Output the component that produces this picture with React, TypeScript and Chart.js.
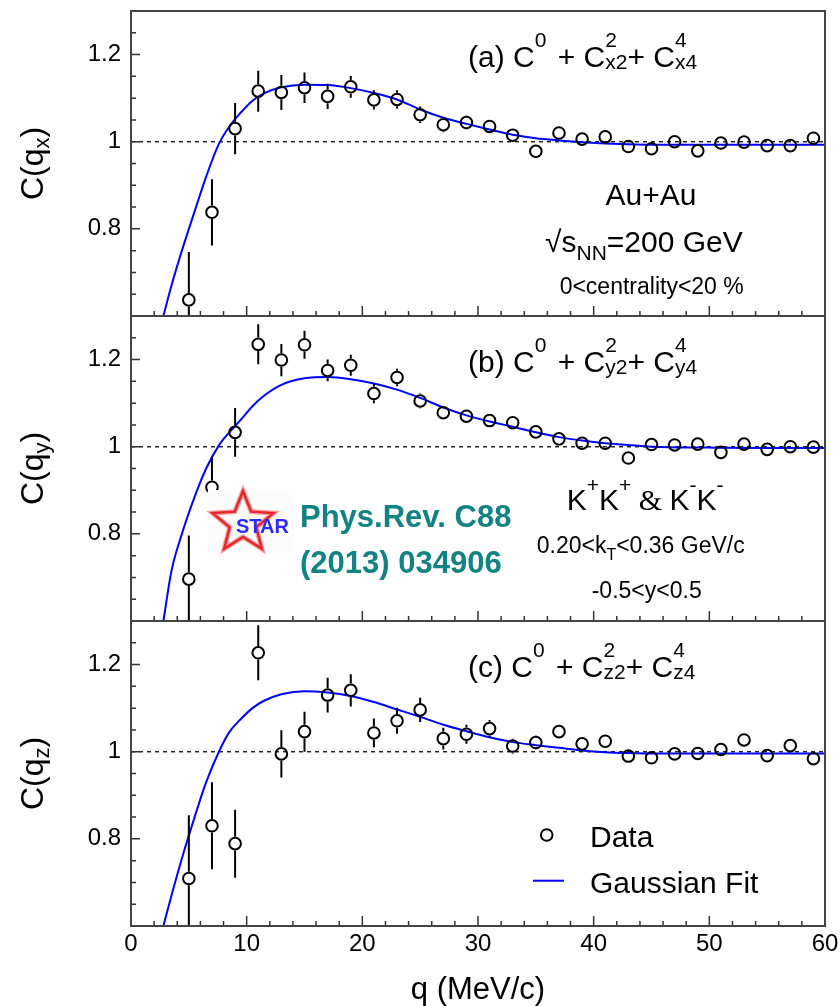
import React, { useEffect, useRef } from "react";
import { Chart, registerables } from "chart.js";

Chart.register(...registerables);

// ---------------- data ----------------
const qValues = [5, 7, 9, 11, 13, 15, 17, 19, 21, 23, 25, 27, 29, 31, 33, 35, 37, 39, 41, 43, 45, 47, 49, 51, 53, 55, 57, 59];

const cqxValues = [0.637, 0.838, 1.03, 1.116, 1.113, 1.124, 1.104, 1.126, 1.096, 1.097, 1.062, 1.039, 1.044, 1.035, 1.015, 0.978, 1.02, 1.006, 1.011, 0.989, 0.984, 1.0, 0.979, 0.997, 0.999, 0.991, 0.991, 1.008];
const cqxErrors = [0.11, 0.076, 0.059, 0.047, 0.04, 0.035, 0.029, 0.025, 0.022, 0.021, 0.019, 0.017, 0.016, 0.015, 0.014, 0.013, 0.012, 0.012, 0.011, 0.011, 0.01, 0.01, 0.01, 0.01, 0.009, 0.009, 0.009, 0.009];

const cqyValues = [0.696, 0.907, 1.033, 1.235, 1.199, 1.234, 1.175, 1.187, 1.122, 1.159, 1.105, 1.078, 1.07, 1.06, 1.055, 1.034, 1.018, 1.008, 1.008, 0.974, 1.005, 1.004, 1.006, 0.987, 1.006, 0.994, 1.0, 0.999];
const cqyErrors = [0.1, 0.07, 0.056, 0.046, 0.037, 0.032, 0.025, 0.024, 0.022, 0.02, 0.017, 0.015, 0.014, 0.013, 0.012, 0.011, 0.011, 0.01, 0.01, 0.01, 0.009, 0.009, 0.009, 0.009, 0.009, 0.009, 0.009, 0.009];

const cqzValues = [0.709, 0.83, 0.789, 1.227, 0.995, 1.046, 1.13, 1.141, 1.043, 1.071, 1.096, 1.03, 1.04, 1.053, 1.013, 1.021, 1.046, 1.018, 1.024, 0.99, 0.986, 0.995, 0.996, 1.005, 1.027, 0.991, 1.014, 0.984];
const cqzErrors = [0.145, 0.1, 0.078, 0.063, 0.054, 0.046, 0.04, 0.037, 0.033, 0.03, 0.028, 0.025, 0.022, 0.02, 0.017, 0.016, 0.015, 0.014, 0.013, 0.012, 0.012, 0.011, 0.011, 0.011, 0.011, 0.01, 0.01, 0.01];

const fitQ = [2.8, 3.5, 4.4, 5.5, 6.5, 7.6, 8.5, 9.5, 10.5, 11.5, 13, 15, 17, 19, 21, 23, 25, 27, 29, 31, 33, 35, 37, 39, 41, 43, 45, 50, 55, 60];
const fitCqx = [0.6, 0.67, 0.75, 0.84, 0.92, 0.995, 1.035, 1.067, 1.094, 1.111, 1.125, 1.131, 1.13, 1.123, 1.112, 1.097, 1.074, 1.055, 1.041, 1.028, 1.016, 1.008, 1.003, 0.999, 0.996, 0.994, 0.993, 0.993, 0.993, 0.993];
const fitCqy = [0.6, 0.715, 0.8, 0.885, 0.95, 1.003, 1.033, 1.062, 1.093, 1.117, 1.142, 1.157, 1.16, 1.155, 1.145, 1.131, 1.112, 1.09, 1.072, 1.058, 1.046, 1.033, 1.022, 1.014, 1.008, 1.004, 1.0, 0.998, 0.997, 0.997];
const fitCqz = [0.6, 0.67, 0.755, 0.85, 0.93, 1.0, 1.045, 1.075, 1.1, 1.117, 1.132, 1.139, 1.136, 1.128, 1.114, 1.097, 1.08, 1.062, 1.047, 1.033, 1.022, 1.015, 1.009, 1.003, 0.999, 0.997, 0.996, 0.996, 0.996, 0.996];

const xLabelTicks = [0, 10, 20, 30, 40, 50, 60];
const yLabelTicks = [0.8, 1.0, 1.2];
const referenceLevel = 1.0;

// ---------------- styling ----------------
const FONT = "'Liberation Sans', Arial, Helvetica, sans-serif";
const SERIF = "'Liberation Serif', 'Times New Roman', serif";
const W = 840;
const H = 1006;
const PLOT_LEFT = 131;
const PLOT_RIGHT_PAD = 15;
const MARKER_R = 5.8;

type Seg = { t?: string; sup?: string; sub?: string; font?: string; subDy?: number; supDy?: number; gap?: number };

function richWidth(ctx: CanvasRenderingContext2D, segs: Seg[], size: number) {
  let w = 0;
  for (const s of segs) {
    if (s.t !== undefined) {
      ctx.font = `${size}px ${s.font || FONT}`;
      w += ctx.measureText(s.t).width;
    } else {
      ctx.font = `${Math.round(size * 0.7)}px ${FONT}`;
      let m = 0;
      if (s.sup) m = Math.max(m, ctx.measureText(s.sup).width);
      if (s.sub) m = Math.max(m, ctx.measureText(s.sub).width);
      w += m + (s.gap || 0);
    }
  }
  return w;
}

function drawRich(ctx: CanvasRenderingContext2D, x: number, y: number, segs: Seg[], size: number, align: "left" | "center" = "left") {
  let cx = x;
  if (align === "center") cx = x - richWidth(ctx, segs, size) / 2;
  ctx.textAlign = "left";
  ctx.textBaseline = "alphabetic";
  for (const s of segs) {
    if (s.t !== undefined) {
      ctx.font = `${size}px ${s.font || FONT}`;
      ctx.fillText(s.t, cx, y);
      cx += ctx.measureText(s.t).width;
    } else {
      ctx.font = `${Math.round(size * 0.7)}px ${FONT}`;
      let m = 0;
      if (s.sup) {
        ctx.fillText(s.sup, cx, y - (s.supDy ?? size * 0.66));
        m = Math.max(m, ctx.measureText(s.sup).width);
      }
      if (s.sub) {
        ctx.fillText(s.sub, cx, y + (s.subDy ?? size * 0.06));
        m = Math.max(m, ctx.measureText(s.sub).width);
      }
      cx += m + (s.gap || 0);
    }
  }
}

function titleSegs(letter: string, axis: string): Seg[] {
  return [
    { t: `(${letter}) C` },
    { sup: "0", gap: 3 },
    { t: " + C" },
    { sup: "2", sub: `${axis}2` },
    { t: "+ C" },
    { sup: "4", sub: `${axis}4` },
  ];
}

function drawStar(ctx: CanvasRenderingContext2D, cx: number, cy: number, R: number, r: number) {
  ctx.beginPath();
  for (let i = 0; i < 10; i++) {
    const ang = -Math.PI / 2 + (i * Math.PI) / 5;
    const rad = i % 2 === 0 ? R : r;
    const px = cx + rad * Math.cos(ang);
    const py = cy + rad * Math.sin(ang);
    if (i === 0) ctx.moveTo(px, py);
    else ctx.lineTo(px, py);
  }
  ctx.closePath();
}

type PanelSpec = {
  key: string;
  letter: string;
  axis: string;
  values: number[];
  errors: number[];
  fit: number[];
  top: number;
  bottom: number;
  showX: boolean;
};

const panels: PanelSpec[] = [
  { key: "a", letter: "a", axis: "x", values: cqxValues, errors: cqxErrors, fit: fitCqx, top: 11, bottom: 316, showX: false },
  { key: "b", letter: "b", axis: "y", values: cqyValues, errors: cqyErrors, fit: fitCqy, top: 316, bottom: 621, showX: false },
  { key: "c", letter: "c", axis: "z", values: cqzValues, errors: cqzErrors, fit: fitCqz, top: 621, bottom: 926, showX: true },
];

function makePlugin(p: PanelSpec) {
  return {
    id: "decor_" + p.key,
    beforeDatasetsDraw(chart: any) {
      const { ctx, chartArea: a, scales } = chart;
      const py = scales.y.getPixelForValue(referenceLevel);
      ctx.save();
      ctx.strokeStyle = "#222";
      ctx.lineWidth = 1.5;
      ctx.setLineDash([4, 4]);
      ctx.beginPath();
      ctx.moveTo(a.left, py);
      ctx.lineTo(a.right, py);
      ctx.stroke();
      ctx.restore();
    },
    afterDatasetsDraw(chart: any) {
      const { ctx, chartArea: a, scales } = chart;
      const xs = scales.x;
      const ys = scales.y;
      ctx.save();
      ctx.beginPath();
      ctx.rect(a.left, a.top, a.right - a.left, a.bottom - a.top);
      ctx.clip();
      ctx.strokeStyle = "#000";
      ctx.lineWidth = 2;
      p.values.forEach((v, i) => {
        const px = xs.getPixelForValue(qValues[i]);
        const pc = ys.getPixelForValue(v);
        const pt = ys.getPixelForValue(v + p.errors[i]);
        const pb = ys.getPixelForValue(v - p.errors[i]);
        const rr = MARKER_R + 1;
        ctx.beginPath();
        if (pc - pt > rr) {
          ctx.moveTo(px, pc - rr);
          ctx.lineTo(px, pt);
        }
        if (pb - pc > rr) {
          ctx.moveTo(px, pc + rr);
          ctx.lineTo(px, pb);
        }
        ctx.stroke();
      });
      ctx.restore();
    },
    afterDraw(chart: any) {
      const { ctx, chartArea: a, scales } = chart;
      const xs = scales.x;
      const ys = scales.y;
      ctx.save();
      // ticks inside the frame
      ctx.strokeStyle = "#333";
      ctx.lineWidth = 1.5;
      ctx.beginPath();
      for (let q = 0; q <= 60; q += 2) {
        const px = xs.getPixelForValue(q);
        const len = q % 10 === 0 ? 10 : 5;
        ctx.moveTo(px, a.bottom);
        ctx.lineTo(px, a.bottom - len);
      }
      for (let k = 12; k <= 26; k++) {
        const v = k * 0.05;
        const py = ys.getPixelForValue(v);
        const len = k % 4 === 0 ? 9 : 5;
        ctx.moveTo(a.left, py);
        ctx.lineTo(a.left + len, py);
      }
      ctx.stroke();
      // frame
      ctx.strokeStyle = "#444";
      ctx.lineWidth = 2;
      ctx.strokeRect(a.left, a.top, a.right - a.left, a.bottom - a.top);

      ctx.fillStyle = "#000";
      // y-axis title, rotated
      {
        const size = 32;
        const segs: Seg[] = [{ t: "C(q" }, { sub: p.axis, subDy: 6 }, { t: ")" }];
        const tw = richWidth(ctx, segs, size);
        const cy = (a.top + a.bottom) / 2;
        ctx.save();
        ctx.translate(43, cy + tw / 2);
        ctx.rotate(-Math.PI / 2);
        drawRich(ctx, 0, 0, segs, size);
        ctx.restore();
      }
      // panel title
      const base = a.top;
      drawRich(ctx, 468, base + 55.7, titleSegs(p.letter, p.axis), 30);

      if (p.key === "a") {
        drawRich(ctx, 651, 205, [{ t: "Au+Au" }], 30, "center");
        drawRich(ctx, 545, 251.7, [{ t: "\u221As" }, { sub: "NN", subDy: 8.5 }, { t: "=200 GeV" }], 30);
        drawRich(ctx, 651.7, 293.5, [{ t: "0<centrality<20 %" }], 23, "center");
      }
      if (p.key === "b") {
        drawRich(
          ctx,
          566.7,
          510,
          [
            { t: "K" },
            { sup: "+", supDy: 18 },
            { t: "K" },
            { sup: "+", supDy: 18 },
            { t: " & ", font: SERIF },
            { t: "K" },
            { sup: "-", supDy: 18 },
            { t: "K" },
            { sup: "-", supDy: 18 },
          ],
          30
        );
        drawRich(ctx, 536.7, 553.3, [{ t: "0.20<k" }, { sub: "T", subDy: 7 }, { t: "<0.36 GeV/c" }], 23);
        drawRich(ctx, 591.7, 598.3, [{ t: "-0.5<y<0.5" }], 23);

        // STAR logo
        ctx.fillStyle = "#fcfcfc";
        ctx.fillRect(208, 490, 86, 63);
        ctx.strokeStyle = "#f5a0a0";
        ctx.lineWidth = 5;
        ctx.lineJoin = "miter";
        drawStar(ctx, 243, 523, 32, 14);
        ctx.stroke();
        ctx.strokeStyle = "#e8262a";
        ctx.lineWidth = 2.5;
        drawStar(ctx, 243, 523, 32, 14);
        ctx.stroke();
        ctx.fillStyle = "#2b2bff";
        ctx.font = `bold 20px ${FONT}`;
        ctx.textAlign = "left";
        ctx.fillText("STAR", 236, 533);

        ctx.fillStyle = "#128282";
        ctx.font = `bold 31px ${FONT}`;
        ctx.fillText("Phys.Rev. C88", 300, 527);
        ctx.fillText("(2013) 034906", 300, 573);
      }
      if (p.key === "c") {
        // legend
        ctx.strokeStyle = "#000";
        ctx.lineWidth = 2;
        ctx.beginPath();
        ctx.arc(546.7, 835, MARKER_R, 0, Math.PI * 2);
        ctx.stroke();
        ctx.strokeStyle = "#0000ff";
        ctx.beginPath();
        ctx.moveTo(533, 880.7);
        ctx.lineTo(564, 880.7);
        ctx.stroke();
        ctx.fillStyle = "#000";
        drawRich(ctx, 590, 846.7, [{ t: "Data" }], 30);
        drawRich(ctx, 590, 892.7, [{ t: "Gaussian Fit" }], 30);
      }
      ctx.restore();
    },
  };
}

function fmt(v: number) {
  return String(Math.round(v * 10) / 10);
}

function buildConfig(p: PanelSpec): any {
  const xHeight = p.showX ? 80 : 0;
  return {
    type: "scatter",
    data: {
      datasets: [
        {
          label: "Data",
          data: qValues.map((q, i) => ({ x: q, y: p.values[i] })),
          pointStyle: "circle",
          pointRadius: MARKER_R,
          pointBorderWidth: 2,
          pointBorderColor: "#000",
          pointBackgroundColor: "rgba(0,0,0,0)",
          showLine: false,
        },
        {
          label: "Gaussian Fit",
          data: fitQ.map((q, i) => ({ x: q, y: p.fit[i] })),
          showLine: true,
          borderColor: "#0000ff",
          borderWidth: 2,
          pointRadius: 0,
          cubicInterpolationMode: "monotone",
          fill: false,
        },
      ],
    },
    options: {
      responsive: false,
      maintainAspectRatio: false,
      animation: false,
      events: [],
      layout: {
        padding: { left: 0, right: PLOT_RIGHT_PAD, top: p.top, bottom: H - p.bottom - xHeight },
      },
      plugins: { legend: { display: false }, tooltip: { enabled: false }, title: { display: false } },
      scales: {
        x: {
          type: "linear",
          min: 0,
          max: 60,
          display: p.showX,
          afterBuildTicks: (s: any) => {
            s.ticks = xLabelTicks.map((v) => ({ value: v }));
          },
          afterFit: (s: any) => {
            s.height = xHeight;
            s.paddingLeft = 0;
            s.paddingRight = 0;
          },
          grid: { display: false, drawTicks: false },
          border: { display: false },
          ticks: {
            autoSkip: false,
            maxRotation: 0,
            padding: 4,
            color: "#000",
            font: { family: FONT, size: 24 },
          },
          title: {
            display: p.showX,
            text: "q (MeV/c)",
            color: "#000",
            font: { family: FONT, size: 31, lineHeight: 1 },
            padding: { top: 0, bottom: 0 },
          },
        },
        y: {
          type: "linear",
          min: 0.6,
          max: 1.3,
          afterBuildTicks: (s: any) => {
            s.ticks = yLabelTicks.map((v) => ({ value: v }));
          },
          afterFit: (s: any) => {
            s.width = PLOT_LEFT;
            s.paddingTop = 0;
            s.paddingBottom = 0;
          },
          grid: { display: false, drawTicks: false },
          border: { display: false },
          ticks: {
            autoSkip: false,
            padding: 10,
            color: "#000",
            font: { family: FONT, size: 24 },
            callback: (v: number) => fmt(v),
          },
        },
      },
    },
    plugins: [makePlugin(p)],
  };
}

function Panel({ spec }: { spec: PanelSpec }) {
  const ref = useRef<HTMLCanvasElement | null>(null);
  useEffect(() => {
    if (!ref.current) return;
    const chart = new Chart(ref.current, buildConfig(spec));
    return () => chart.destroy();
  }, [spec]);
  return (
    <canvas
      ref={ref}
      width={W}
      height={H}
      style={{ position: "absolute", left: 0, top: 0, width: W, height: H }}
    />
  );
}

export default function App() {
  return (
    <div style={{ position: "absolute", left: 0, top: 0, width: W, height: H, background: "#fff" }}>
      {panels.map((p) => (
        <Panel key={p.key} spec={p} />
      ))}
    </div>
  );
}
